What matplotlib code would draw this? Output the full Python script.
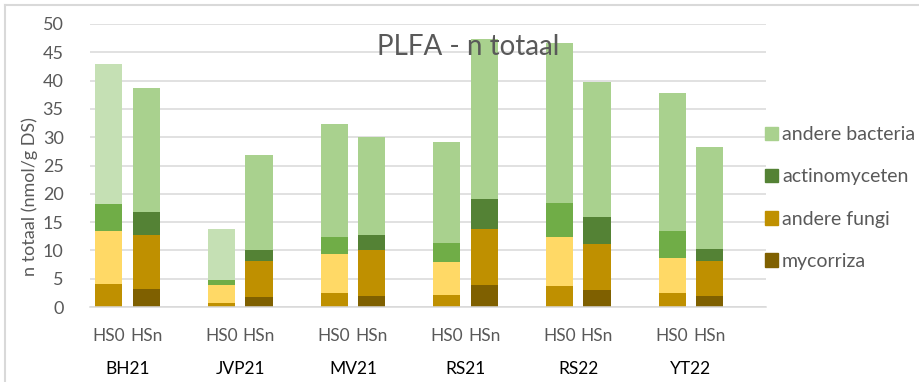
import numpy as np
import matplotlib
matplotlib.use("Agg")
import matplotlib.pyplot as plt
import matplotlib.transforms as mtransforms
from matplotlib.patches import Patch
from matplotlib.lines import Line2D

plt.rcParams['font.family'] = ['Lato', 'DejaVu Sans']

# sites and treatments
sites = ["BH21", "JVP21", "MV21", "RS21", "RS22", "YT22"]
treatments = ["HS0", "HSn"]

# PLFA fractions (nmol/g DS), per site: [HS0, HSn]
mycorriza = [[4.1, 3.2], [0.7, 1.8], [2.5, 1.9], [2.2, 3.8], [3.7, 3.0], [2.5, 2.0]]
andere_fungi = [[9.3, 9.5], [3.1, 6.3], [6.8, 8.2], [5.7, 10.0], [8.7, 8.1], [6.2, 6.1]]
actinomyceten = [[4.8, 4.1], [1.0, 1.9], [3.0, 2.6], [3.4, 5.2], [6.0, 4.8], [4.7, 2.1]]
andere_bacteria = [[24.7, 21.9], [9.0, 16.9], [20.1, 17.4], [17.9, 28.4], [28.3, 23.8], [24.4, 18.1]]

yticks = list(range(0, 51, 5))

# colours: HSn bars darker, HS0 bars lighter
col_hsn = {"myc": "#7F6000", "fun": "#BF9000", "act": "#548235", "bac": "#A9D18E"}
col_hs0 = {"myc": "#BF9000", "fun": "#FFD966", "act": "#70AD47", "bac": "#A9D18E"}
bac_hs0_light = {"BH21": "#C5E0B4", "JVP21": "#C5E0B4"}

W, H = 920, 382
fig = plt.figure(figsize=(W / 100, H / 100), dpi=100)
ax = fig.add_axes([90 / W, (H - 307) / H, (766 - 90) / W, (307 - 24) / H])

layers = [("myc", mycorriza), ("fun", andere_fungi), ("act", actinomyceten), ("bac", andere_bacteria)]
for g, site in enumerate(sites):
    for t in range(2):
        x = 3 * g + t
        bottom = 0.0
        for key, vals in layers:
            v = vals[g][t]
            if t == 0:
                c = col_hs0[key]
                if key == "bac" and site in bac_hs0_light:
                    c = bac_hs0_light[site]
            else:
                c = col_hsn[key]
            ax.bar(x, v, bottom=bottom, width=0.72, color=c, linewidth=0, zorder=2)
            bottom += v

ax.set_xlim(-0.5, 17.5)
ax.set_ylim(0, 50)
ax.set_yticks(yticks)
ax.set_xticks([])
ax.grid(axis="y", color="#D9D9D9", linewidth=1.1, zorder=0)
ax.set_axisbelow(True)
for s in ["top", "right", "left"]:
    ax.spines[s].set_visible(False)
ax.spines["bottom"].set_color("#D9D9D9")
ax.spines["bottom"].set_linewidth(1.1)
ax.tick_params(axis="y", length=0, pad=19, labelsize=13, labelcolor="#595959")

# category labels below the axis
trans = mtransforms.blended_transform_factory(ax.transData, fig.transFigure)
for g, site in enumerate(sites):
    for t, lab in enumerate(treatments):
        ax.text(3 * g + t, (H - 336) / H, lab, transform=trans, ha="center", va="center",
                fontsize=12.5, color="#595959")
    ax.text(3 * g + 0.5, (H - 369) / H, site, transform=trans, ha="center", va="center",
            fontsize=12.5, color="#000000")

fig.text(30 / W, (H - 197) / H, "n totaal (nmol/g DS)", rotation=90, ha="center", va="center",
         fontsize=13, color="#595959")
fig.text(468 / W, (H - 47) / H, "PLFA - n totaal", ha="center", va="center",
         fontsize=20, color="#595959", zorder=5)

handles = [Patch(color=col_hsn["bac"]), Patch(color=col_hsn["act"]),
           Patch(color=col_hsn["fun"]), Patch(color=col_hsn["myc"])]
labels = ["andere bacteria", "actinomyceten", "andere fungi", "mycorriza"]
leg = fig.legend(handles, labels, loc="center left", bbox_to_anchor=(765 / W, (H - 198) / H),
                 frameon=False, fontsize=14, handlelength=0.68, handleheight=0.68,
                 handletextpad=0.2, labelspacing=1.3, borderaxespad=0, borderpad=0)
for txt in leg.get_texts():
    txt.set_color("#595959")

# chart area border
fig.add_artist(Line2D([5 / W, 5 / W], [0, (H - 5) / H], transform=fig.transFigure,
                      color="#D9D9D9", linewidth=1.5))
fig.add_artist(Line2D([5 / W, 1], [(H - 5) / H, (H - 5) / H], transform=fig.transFigure,
                      color="#D9D9D9", linewidth=1.5))

fig.savefig("out.png", dpi=100, facecolor="white")
